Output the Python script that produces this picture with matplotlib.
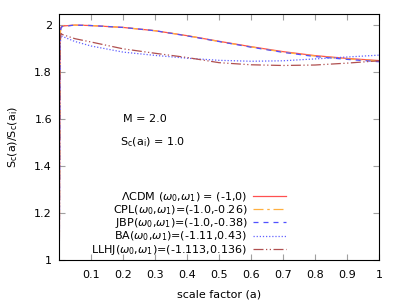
import matplotlib
matplotlib.use("Agg")
import matplotlib.pyplot as plt

# ---- data ----
a_grid = [0.001, 0.003, 0.006, 0.01, 0.05, 0.1, 0.2, 0.3, 0.4, 0.5, 0.6, 0.7, 0.8, 0.9, 1.0]
s_lcdm = [1.0, 1.960, 1.990, 1.996, 2.000, 1.998, 1.990, 1.976, 1.955, 1.931, 1.908, 1.887, 1.870, 1.858, 1.849]
s_cpl  = [1.0, 1.955, 1.988, 1.995, 2.000, 1.998, 1.990, 1.976, 1.955, 1.930, 1.907, 1.885, 1.868, 1.856, 1.847]
s_jbp  = [1.0, 1.950, 1.986, 1.994, 2.000, 1.998, 1.990, 1.976, 1.954, 1.930, 1.906, 1.884, 1.866, 1.854, 1.844]
s_ba   = [1.0, 1.900, 1.955, 1.952, 1.930, 1.911, 1.885, 1.871, 1.859, 1.850, 1.846, 1.848, 1.856, 1.864, 1.872]
s_llhj = [1.0, 1.910, 1.965, 1.960, 1.942, 1.928, 1.899, 1.880, 1.862, 1.840, 1.831, 1.828, 1.830, 1.838, 1.848]

labels = [
    r"$\Lambda$CDM ($\omega_0$,$\omega_1$) = (-1,0)",
    r"CPL($\omega_0$,$\omega_1$)=(-1.0,-0.26)",
    r"JBP($\omega_0$,$\omega_1$)=(-1.0,-0.38)",
    r"BA($\omega_0$,$\omega_1$)=(-1.11,0.43)",
    r"LLHJ($\omega_0$,$\omega_1$)=(-1.113,0.136)",
]
x_ticks = [0.1, 0.2, 0.3, 0.4, 0.5, 0.6, 0.7, 0.8, 0.9, 1.0]
x_ticklabels = ["0.1", "0.2", "0.3", "0.4", "0.5", "0.6", "0.7", "0.8", "0.9", "1"]
y_ticks = [1.0, 1.2, 1.4, 1.6, 1.8, 2.0]
y_ticklabels = ["1", "1.2", "1.4", "1.6", "1.8", "2"]

plt.rcParams["font.family"] = ["DejaVu Sans"]
plt.rcParams["mathtext.fontset"] = "dejavusans"

fig = plt.figure(figsize=(4, 3), dpi=100)
ax = fig.add_axes([0.1475, 0.1333, 0.80, 0.8207])

series = [s_lcdm, s_cpl, s_jbp, s_ba, s_llhj]
colors = ["#ff5050", "#ffb040", "#5050ff", "#6060ff", "#b05050"]
styles = ["-", (0, (8, 3, 2, 3)), (0, (4, 4)), (0, (1, 1.5)), (0, (8, 2, 1, 2, 1, 2))]
for s, c, ls, lab in zip(series, colors, styles, labels):
    ax.plot(a_grid, s, color=c, linestyle=ls, linewidth=0.9, label=lab)

ax.set_xlim(0, 1)
ax.set_ylim(1, 2.048)
ax.set_xticks(x_ticks)
ax.set_xticklabels(x_ticklabels)
ax.set_yticks(y_ticks)
ax.set_yticklabels(y_ticklabels)
ax.tick_params(direction="in", length=4, width=0.8, color="#a0a0a0",
               labelsize=8, top=True, right=True)
ax.tick_params(axis="x", pad=7)
ax.tick_params(axis="y", pad=5)
for sp in ax.spines.values():
    sp.set_color("black")
    sp.set_linewidth(0.8)

ax.set_xlabel("scale factor (a)", fontsize=8, labelpad=7)
ax.set_ylabel(r"S$_\mathrm{c}$(a)/S$_\mathrm{c}$(a$_\mathrm{i}$)", fontsize=8, labelpad=10)

ax.text(0.2, 1.6, "M = 2.0", fontsize=8, ha="left", va="center")
ax.text(0.19, 1.5, r"S$_\mathrm{c}$(a$_\mathrm{i}$) = 1.0", fontsize=8, ha="left", va="center")

leg = ax.legend(loc="lower right", bbox_to_anchor=(0.72, 0.0), frameon=False,
                markerfirst=False, fontsize=8, handlelength=3.0, handletextpad=0.5,
                labelspacing=-0.05, borderaxespad=0.1, borderpad=0.2)

fig.savefig("out.png", dpi=100)
